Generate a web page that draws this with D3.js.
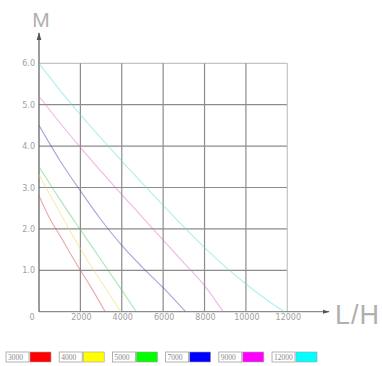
<!DOCTYPE html>
<html><head><meta charset="utf-8">
<script src="https://cdn.jsdelivr.net/npm/d3@7"></script>
<style>html,body{margin:0;padding:0;background:#fff;}svg{display:block;}</style>
</head><body>
<svg id="chart" width="382" height="366"></svg>
<script>
// ---- data ----
const categories = ["3000", "4000", "5000", "7000", "9000", "12000"];
const xTicks = [0, 2000, 4000, 6000, 8000, 10000, 12000];
const yTicks = [1, 2, 3, 4, 5, 6];
const yTickLabels = ["1.0", "2.0", "3.0", "4.0", "5.0", "6.0"];
const flow3000 = [0, 500, 1000, 1500, 2000, 2500, 3200];
const head3000 = [2.8, 2.27, 1.85, 1.42, 1.0, 0.6, 0];
const flow4000 = [0, 1000, 2000, 3000, 3950];
const head4000 = [3.3, 2.4, 1.52, 0.73, 0];
const flow5000 = [0, 1000, 2000, 3000, 4000, 4700];
const head5000 = [3.5, 2.72, 1.98, 1.25, 0.52, 0];
const flow7000 = [0, 1000, 2000, 3000, 4000, 5000, 6000, 7080];
const head7000 = [4.5, 3.66, 2.92, 2.22, 1.6, 1.07, 0.58, 0];
const flow9000 = [0, 1000, 2000, 3000, 4000, 5000, 6000, 7000, 8000, 8900];
const head9000 = [5.2, 4.57, 3.97, 3.39, 2.83, 2.28, 1.73, 1.18, 0.63, 0];
const flow12000 = [0, 1000, 2000, 3000, 4000, 5000, 6000, 7000, 8000, 9000, 10000, 11000, 11850];
const head12000 = [6.0, 5.36, 4.76, 4.19, 3.64, 3.1, 2.57, 2.05, 1.55, 1.09, 0.67, 0.29, 0];

// ---- styles ----
const lineColors = ["#e05050", "#e8e060", "#50d070", "#5050b0", "#e070d0", "#60e0e0"];
const legendColors = ["#ff0000", "#ffff00", "#00ff00", "#0000ff", "#ff00ff", "#00ffff"];

const series = [
  {flow: flow3000, head: head3000},
  {flow: flow4000, head: head4000},
  {flow: flow5000, head: head5000},
  {flow: flow7000, head: head7000},
  {flow: flow9000, head: head9000},
  {flow: flow12000, head: head12000}
];

const svg = d3.select("#chart");
const x = d3.scaleLinear().domain([0, 12000]).range([39, 287.3]);
const y = d3.scaleLinear().domain([0, 6]).range([311.7, 63.3]);

// grid
const grid = svg.append("g");
grid.selectAll("line.h").data(yTicks).join("line")
  .attr("x1", x(0)).attr("x2", x(12000))
  .attr("y1", d => y(d)).attr("y2", d => y(d))
  .attr("stroke", d => d === 6 ? "#c4c4c4" : "#8c8c8c").attr("stroke-width", 1.2);
grid.selectAll("line.v").data(xTicks.filter(d => d > 0)).join("line")
  .attr("x1", d => x(d)).attr("x2", d => x(d))
  .attr("y1", y(0)).attr("y2", y(6))
  .attr("stroke", d => d === 12000 ? "#c4c4c4" : "#8c8c8c").attr("stroke-width", 1.2);

// axes with arrows
const defs = svg.append("defs");
defs.append("marker").attr("id", "arr").attr("viewBox", "0 0 10 10")
  .attr("refX", 9).attr("refY", 5).attr("markerWidth", 6).attr("markerHeight", 6)
  .attr("orient", "auto")
  .append("path").attr("d", "M0,2 L10,5 L0,8 Z").attr("fill", "#555");
svg.append("line").attr("x1", x(0)).attr("x2", 329).attr("y1", y(0)).attr("y2", y(0))
  .attr("stroke", "#8c8c8c").attr("stroke-width", 1.2).attr("marker-end", "url(#arr)");
svg.append("line").attr("x1", x(0)).attr("x2", x(0)).attr("y1", y(0)).attr("y2", 33)
  .attr("stroke", "#666").attr("stroke-width", 1.3).attr("marker-end", "url(#arr)");

// tick labels
svg.append("g").selectAll("text").data(yTicks).join("text")
  .attr("x", 35).attr("y", d => y(d) + 3)
  .attr("text-anchor", "end").attr("font-family", "DejaVu Sans, sans-serif")
  .attr("font-size", 8).attr("fill", "#a0a0a0")
  .text((d, i) => yTickLabels[i]);
svg.append("g").selectAll("text").data(xTicks).join("text")
  .attr("x", d => d === 0 ? 32 : x(d) + 1).attr("y", 320)
  .attr("text-anchor", "middle").attr("font-family", "DejaVu Sans, sans-serif")
  .attr("font-size", 8).attr("fill", "#a0a0a0")
  .text(d => d);

// axis titles
svg.append("text").attr("x", 41).attr("y", 27).attr("text-anchor", "middle")
  .attr("font-family", "Liberation Sans, sans-serif").attr("font-size", 21)
  .attr("fill", "#b0b0b0").text("M");
svg.append("text").attr("x", 335).attr("y", 324)
  .attr("font-family", "Liberation Sans, sans-serif").attr("font-size", 27)
  .attr("letter-spacing", 1).attr("fill", "#b0b0b0").text("L/H");

// curves
const line = d3.line().x(d => x(d[0])).y(d => y(d[1])).curve(d3.curveMonotoneX);
svg.append("g").selectAll("path").data(series).join("path")
  .attr("d", s => line(s.flow.map((f, i) => [f, s.head[i]])))
  .attr("fill", "none")
  .attr("stroke", (s, i) => lineColors[i])
  .attr("stroke-opacity", 0.5)
  .attr("stroke-width", 1.1);

// legend
const legend = svg.append("g");
const items = legend.selectAll("g").data(categories).join("g")
  .attr("transform", (d, i) => `translate(${6 + i * 53.2},352)`);
items.append("rect").attr("x", 0).attr("y", 0).attr("width", 23).attr("height", 10)
  .attr("fill", "#fff").attr("stroke", "#a0a0a0").attr("stroke-width", 0.8);
items.append("text").attr("x", 2).attr("y", 8)
  .attr("font-family", "Liberation Serif, serif").attr("font-size", 7.5)
  .attr("fill", "#888").text(d => d);
items.append("rect").attr("x", 24).attr("y", 0).attr("width", 21).attr("height", 10)
  .attr("fill", (d, i) => legendColors[i]).attr("stroke", "#a0a0a0").attr("stroke-width", 0.6);
</script>
</body></html>
